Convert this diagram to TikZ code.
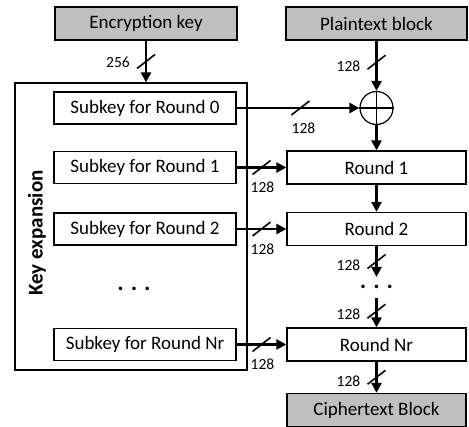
\documentclass[tikz,border=0pt]{standalone}
\usepackage{fontspec}
\setmainfont{Carlito}
\usetikzlibrary{arrows.meta,calc}

\definecolor{boxgray}{RGB}{191,191,191}
\tikzset{
  block/.style={draw, line width=1.2pt, minimum height=33pt, inner sep=0pt,
    font=\fontsize{19}{22}\selectfont},
  bus/.style={line width=2.6pt, -{Triangle[length=10pt,width=10pt]}},
  slash/.style={line width=1.6pt},
  buslabel/.style={inner sep=0pt, font=\fontsize{15.5}{18}\selectfont},
  dots/.style={inner sep=0pt, font=\fontsize{24}{26}\selectfont\bfseries},
}
% slash across a bus with its width beside it
\newcommand{\busmark}[3]{%
  \draw[slash] (#1) ++(-9,7) -- ++(18,-14);
  \node[buslabel] (#1-lbl) at ($(#1)+(#3)$) {#2};}

\begin{document}
\begin{tikzpicture}[x=1pt,y=-1pt]
\useasboundingbox (0,0) rectangle (469,427);
\def\xkey{145}
\def\xrnd{376.5}

\node[block, fill=boxgray, minimum width=182pt] (enckey) at (146,23.5) {Encryption key};
\node[block, fill=boxgray, minimum width=181pt] (plain) at (\xrnd,23.5) {Plaintext block};

% key schedule
\node[block, minimum width=232pt, minimum height=287pt] (kexp) at (131,226.5) {};
\node[rotate=90, font=\fontsize{21}{24}\selectfont\bfseries] (kexptxt) at (37,233) {Key expansion};
\foreach \i/\y/\r in {0/108/0, 1/167.5/1, 2/229/2, 3/344.5/Nr}{
  \node[block, minimum width=182pt, minimum height=32pt] (sub\i) at (\xkey,\y) {Subkey for Round \r};
}
\node[dots] (dotsL) at (134,289) {.\hspace{7pt}.\hspace{7pt}.};

% round pipeline
\node[draw, circle, line width=1.2pt, minimum size=33pt, inner sep=0pt] (xor) at (\xrnd,108) {};
\draw[line width=1.2pt] (xor.north) -- (xor.south) (xor.west) -- (xor.east);
\foreach \i/\y/\r in {1/167.5/1, 2/229/2, 3/344.5/Nr}{
  \node[block, minimum width=179pt] (rnd\i) at (\xrnd,\y) {Round \r};
}
\node[block, fill=boxgray, minimum width=179pt] (cipher) at (\xrnd,410) {Ciphertext Block};
\coordinate (gapA) at (\xrnd,277);
\coordinate (gapB) at (\xrnd,298);
\node[dots] (dotsR) at (\xrnd,287) {.\hspace{7pt}.\hspace{7pt}.};

\draw[bus] (enckey) -- coordinate[pos=.5] (w256) (enckey |- kexp.north);
\busmark{w256}{256}{-28,1}
\draw[bus] (plain) -- coordinate[pos=.43] (wpt) (xor);
\busmark{wpt}{128}{-28,4}
\draw[bus] (sub0) -- coordinate[pos=.52] (wk0) (xor);
\busmark{wk0}{128}{3,20}
\draw[bus] (xor) -- (rnd1);
\foreach \i in {1,2,3}{
  \draw[bus] (sub\i) -- coordinate[pos=.5] (wk\i) (rnd\i);
  \busmark{wk\i}{128}{1,20}
}
\draw[bus] (rnd1) -- (rnd2);
\draw[bus] (rnd2) -- coordinate[pos=.5] (wr2) (gapA);
\busmark{wr2}{128}{-28,4}
\draw[bus] (gapB) -- coordinate[pos=.45] (wr3) (rnd3);
\busmark{wr3}{128}{-28,3}
\draw[bus] (rnd3) -- coordinate[pos=.5] (wout) (cipher);
\busmark{wout}{128}{-28,4}
\end{tikzpicture}
\end{document}
